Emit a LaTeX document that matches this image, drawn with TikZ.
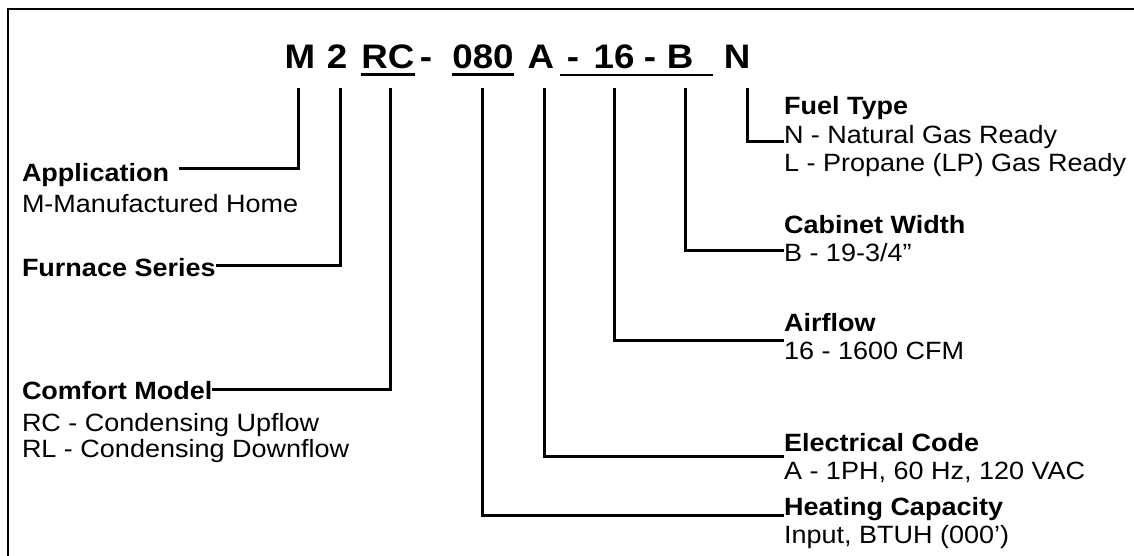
\documentclass[tikz,border=0pt]{standalone}
\usepackage{fontspec}
\setmainfont{Liberation Sans}[FakeStretch=1.08]
\usepackage{tikz}
\usetikzlibrary{positioning,calc}
\tikzset{
  code/.style  = {inner sep=0pt, outer sep=0pt, anchor=base, font=\bfseries\fontsize{17}{17}\selectfont},
  ttl/.style   = {inner sep=0pt, outer sep=0pt, anchor=base west, font=\bfseries\fontsize{12.5}{13}\selectfont},
  dsc/.style   = {inner sep=0pt, outer sep=0pt, anchor=base west, font=\fontsize{12.5}{13}\selectfont},
  lead/.style  = {line width=1.5pt, black},
  uline/.style = {line width=1.2pt, black},
  frame/.style = {line width=1pt, black},
}

\begin{document}
\begin{tikzpicture}[x=0.5pt, y=-0.5pt]
  \useasboundingbox (0,0) rectangle (1134,556);
  \draw[frame] (8,556) -- (8,9) -- (1134,9);

  % model number
  \node[code] (cM)   at (300,69) {M};
  \node[code] (c2)   at (337,69) {2};
  \node[code] (cRC)  at (388,69) {RC};
  \node[code] (d1)   at (426,69) {-};
  \node[code] (c080) at (483,69) {080};
  \node[code] (cA)   at (541,69) {A};
  \node[code] (d2)   at (573,69) {-};
  \node[code] (c16)  at (614,69) {16};
  \node[code] (d3)   at (650,69) {-};
  \node[code] (cB)   at (680,69) {B};
  \node[code] (cN)   at (737,69) {N};

  \draw[uline] ([yshift=-2.5pt]cRC.south west) -- ([yshift=-2.5pt]cRC.south east);
  \draw[uline] ([yshift=-2.5pt]c080.south west) -- ([yshift=-2.5pt]c080.south east);
  \draw[uline] ([xshift=3pt,yshift=-3pt]cA.south east) -- ([xshift=10pt,yshift=-3pt]cB.south east);

  \coordinate (tM)   at (298,88);
  \coordinate (t2)   at (340,88);
  \coordinate (tRC)  at (390,88);
  \coordinate (t080) at (482,88);
  \coordinate (tA)   at (544,88);
  \coordinate (t16)  at (614,88);
  \coordinate (tB)   at (685,88);
  \coordinate (tN)   at (747,88);

  % left column
  \node[ttl] (app)    at (22,181) {Application};
  \node[dsc] (appd)   at (22,212) {M-Manufactured Home};
  \node[ttl] (furn)   at (22,276) {Furnace Series};
  \node[ttl] (comf)   at (22,399) {Comfort Model};
  \node[dsc] (comfd1) at (22,431) {RC - Condensing Upflow};
  \node[dsc] (comfd2) at (22,457) {RL - Condensing Downflow};

  % right column
  \node[ttl] (fuel)   at (784,115) {Fuel Type};
  \node[dsc] (fueld1) at (784,143) {N - Natural Gas Ready};
  \node[dsc] (fueld2) at (784,171) {L - Propane (LP) Gas Ready};
  \node[ttl] (cab)    at (784,233) {Cabinet Width};
  \node[dsc] (cabd)   at (784,261) {B - 19-3/4"};
  \node[ttl] (air)    at (784,331) {Airflow};
  \node[dsc] (aird)   at (784,359) {16 - 1600 CFM};
  \node[ttl] (elec)   at (784,451) {Electrical Code};
  \node[dsc] (elecd)  at (784,479) {A - 1PH, 60 Hz, 120 VAC};
  \node[ttl] (heat)   at (784,515) {Heating Capacity};
  \node[dsc] (heatd)  at (784,543) {Input, BTUH (000')};

  \draw[lead] (tM)   |- ([xshift=5pt,yshift=6.5pt]app.base east);
  \draw[lead] (t2)   |- ([yshift=5.5pt]furn.base east);
  \draw[lead] (tRC)  |- ([yshift=5pt]comf.base east);
  \draw[lead] (t080) |- (heat.base west);
  \draw[lead] (tA)   |- ([yshift=-2.5pt]elec.base west);
  \draw[lead] (t16)  |- ([yshift=9.5pt]aird.base west);
  \draw[lead] (tB)   |- ([yshift=5.5pt]cabd.base west);
  \draw[lead] (tN)   |- ([yshift=1pt]fueld1.base west);
\end{tikzpicture}
\end{document}
